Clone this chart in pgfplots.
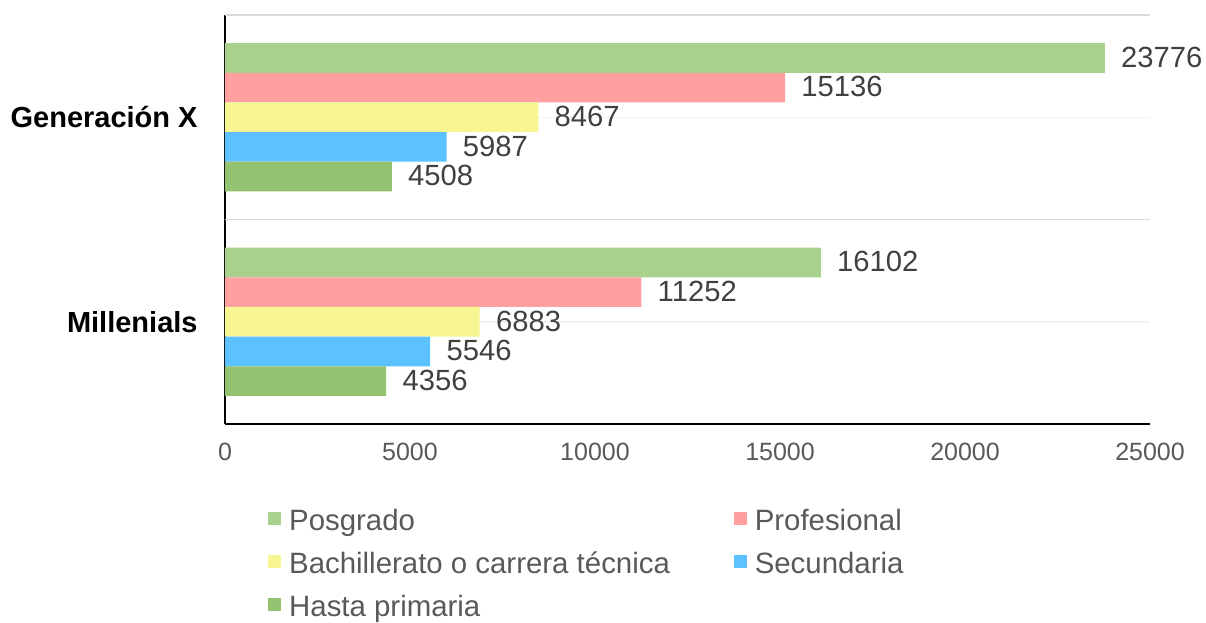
\documentclass[border=0pt]{standalone}
\usepackage{pgfplots}
\pgfplotsset{compat=1.18}
\usepackage{fontspec}
\setmainfont{Liberation Sans}
\definecolor{cPos}{HTML}{A9D18E}
\definecolor{cPro}{HTML}{FF9F9F}
\definecolor{cBac}{HTML}{F8F593}
\definecolor{cSec}{HTML}{5BC2FF}
\definecolor{cPri}{HTML}{93C270}
\definecolor{gridlight}{HTML}{F2F2F2}
\definecolor{gridmid}{HTML}{D9D9D9}
\definecolor{tickgray}{HTML}{595959}
\definecolor{labgray}{HTML}{404040}
\begin{document}
\begin{tikzpicture}
\begin{axis}[
  scale only axis, width=462.5pt, height=204.5pt,
  xbar, bar width=0.145,
  xmin=0, xmax=25000, ymin=-0.5, ymax=1.5,
  xtick={0,5000,...,25000}, ytick={0,1},
  yticklabels={Millenials,Generación X},
  scaled x ticks=false,
  /pgf/number format/assume math mode=true,
  /pgf/number format/1000 sep={},
  axis x line*=bottom, axis y line*=left,
  axis line style={black, line width=0.75pt},
  major tick length=0pt,
  ymajorgrids, major grid style={color=gridlight, line width=0.75pt},
  extra y ticks={0.5,1.5}, extra y tick labels={},
  extra y tick style={major grid style={color=gridmid, line width=0.75pt}},
  xticklabel style={font=\fontsize{12.5}{14}\selectfont, text=tickgray, inner sep=0pt, yshift=-9.3pt},
  yticklabel style={font=\fontsize{14.5}{17}\selectfont\bfseries, text=black, inner sep=0pt, xshift=-13.5pt},
  nodes near coords,
  nodes near coords style={font=\fontsize{14.6}{17}\selectfont, text=labgray, inner sep=0pt, anchor=west, xshift=8pt, yshift=0.4pt},
  clip=false,
  legend columns=2,
  legend cell align=left,
  legend image code/.code={\fill[#1,draw=none] (0pt,-0.8pt) rectangle (6.4pt,5.6pt);},
  legend style={at={(0.0465,-0.2078)}, anchor=north west, draw=none, fill=none,
    inner sep=0pt, font=\fontsize{14.7}{17}\selectfont, text=tickgray, row sep=8pt,
    nodes={inner sep=0pt, text height=10.5pt, text depth=3pt},
    /tikz/column 1/.style={column sep=4pt},
    /tikz/column 2/.style={column sep=32pt},
    /tikz/column 3/.style={column sep=4pt}},
]
\addplot[fill=cPos, draw=none, bar shift=0.29] coordinates {(16102,0) (23776,1)};
\addlegendentry{Posgrado}
\addplot[fill=cPro, draw=none, bar shift=0.145] coordinates {(11252,0) (15136,1)};
\addlegendentry{Profesional}
\addplot[fill=cBac, draw=none, bar shift=0] coordinates {(6883,0) (8467,1)};
\addlegendentry{Bachillerato o carrera técnica}
\addplot[fill=cSec, draw=none, bar shift=-0.145] coordinates {(5546,0) (5987,1)};
\addlegendentry{Secundaria}
\addplot[fill=cPri, draw=none, bar shift=-0.29] coordinates {(4356,0) (4508,1)};
\addlegendentry{Hasta primaria}
\path (rel axis cs:-0.2432,-0.4792) rectangle (rel axis cs:1.0605,1.0367);
\end{axis}
\end{tikzpicture}
\end{document}
